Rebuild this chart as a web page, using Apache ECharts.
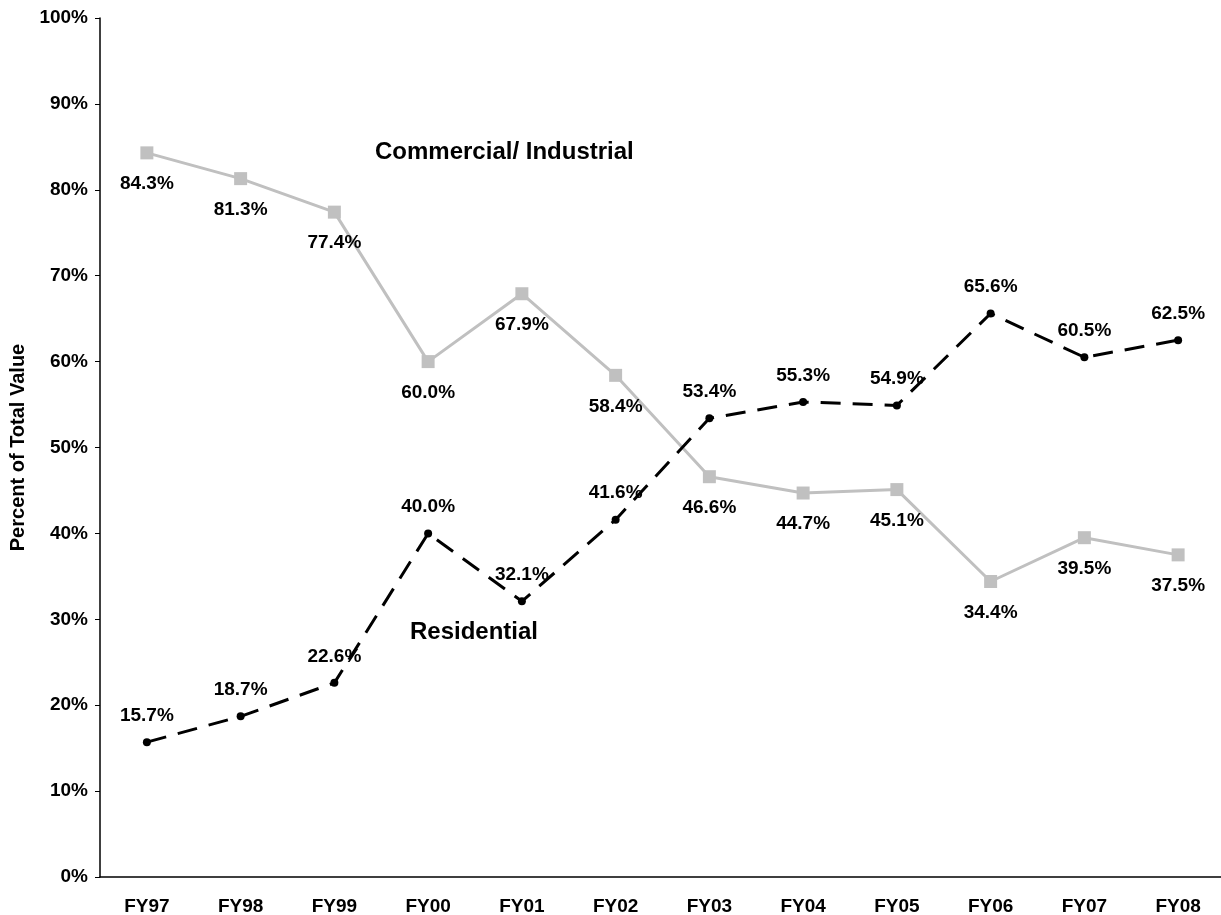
<!DOCTYPE html>
<html>
<head>
<meta charset="utf-8">
<script src="https://cdn.jsdelivr.net/npm/echarts@6/dist/echarts.min.js"></script>
<style>
  html, body { margin: 0; padding: 0; background: #fff; }
  .chart { width: 1221px; height: 915px; }
</style>
</head>
<body>
<div class="chart"></div>
<script>
// 数据
var years = ['FY97', 'FY98', 'FY99', 'FY00', 'FY01', 'FY02', 'FY03', 'FY04', 'FY05', 'FY06', 'FY07', 'FY08'];
var commercial = [84.3, 81.3, 77.4, 60.0, 67.9, 58.4, 46.6, 44.7, 45.1, 34.4, 39.5, 37.5];
var residential = [15.7, 18.7, 22.6, 40.0, 32.1, 41.6, 53.4, 55.3, 54.9, 65.6, 60.5, 62.5];

(function () {
  var chart = echarts.init(document.querySelector('.chart'));
  var font = 'Liberation Sans, Arial, sans-serif';

  var label = {
    show: true,
    fontFamily: font,
    fontWeight: 'bold',
    fontSize: 19,
    color: '#000',
    formatter: function (p) { return p.value.toFixed(1) + '%'; }
  };

  var option = {
    animation: false,
    grid: { left: 100, right: -4, top: 18, bottom: 38, outerBoundsMode: 'none' },
    xAxis: {
      type: 'category',
      data: years,
      axisLine: { lineStyle: { color: '#000', width: 1.5 } },
      axisTick: { length: 6, lineStyle: { color: '#000' } },
      axisLabel: { color: '#000', fontFamily: font, fontWeight: 'bold', fontSize: 19, margin: 20 }
    },
    yAxis: {
      type: 'value',
      min: 0,
      max: 100,
      interval: 10,
      name: 'Percent of Total Value',
      nameLocation: 'middle',
      nameGap: 72,
      nameRotate: 90,
      nameTextStyle: { color: '#000', fontFamily: font, fontWeight: 'bold', fontSize: 20 },
      axisLine: { show: true, lineStyle: { color: '#000', width: 1.5 } },
      axisTick: { show: true, length: 5, lineStyle: { color: '#000' } },
      splitLine: { show: false },
      axisLabel: {
        color: '#000', fontFamily: font, fontWeight: 'bold', fontSize: 19, margin: 12,
        formatter: '{value}%'
      }
    },
    graphic: [
      {
        type: 'text', left: 375, top: 140,
        style: { text: 'Commercial/ Industrial', font: 'bold 24px ' + font, fill: '#000' }
      },
      {
        type: 'text', left: 410, top: 620,
        style: { text: 'Residential', font: 'bold 24px ' + font, fill: '#000' }
      }
    ],
    series: [
      {
        name: 'Commercial/ Industrial',
        type: 'line',
        data: commercial,
        symbol: 'rect',
        symbolSize: 13,
        itemStyle: { color: '#c0c0c0' },
        lineStyle: { color: '#c0c0c0', width: 3 },
        label: Object.assign({ position: 'bottom', distance: 15 }, label)
      },
      {
        name: 'Residential',
        type: 'line',
        data: residential,
        symbol: 'circle',
        symbolSize: 8,
        itemStyle: { color: '#000' },
        lineStyle: { color: '#000', width: 3, type: [20, 12] },
        label: Object.assign({ position: 'top', distance: 13 }, label)
      }
    ]
  };

  chart.setOption(option);
})();
</script>
</body>
</html>
